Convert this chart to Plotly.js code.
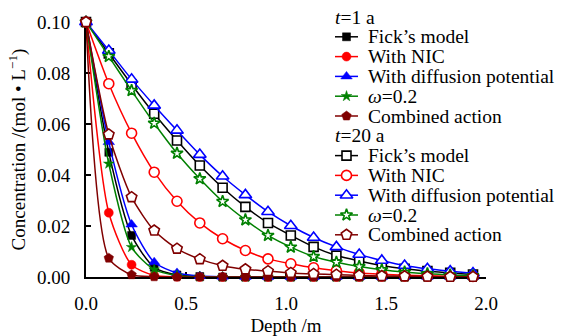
<!DOCTYPE html>
<html>
<head>
<meta charset="utf-8">
<script src="https://cdn.plot.ly/plotly-3.0.1.min.js"></script>
<style>
  html, body { margin: 0; padding: 0; background: #fff; }
  #chart { width: 569px; height: 336px; }
</style>
</head>
<body>
<div id="chart"></div>
<script>
// Depth grid (m)
const depth = [0, 0.114, 0.228, 0.341, 0.455, 0.569, 0.683, 0.797, 0.910, 1.024,
               1.138, 1.252, 1.366, 1.479, 1.593, 1.707, 1.821, 1.935];

// Concentration (mol/L) after t = 1 a
const fick1  = [0.1, 0.0489, 0.0163, 0.0038, 0.0008, 0.0002, 0, 0, 0, 0, 0, 0, 0, 0, 0, 0, 0, 0];
const nic1   = [0.1, 0.0252, 0.0048, 0.0006, 0.0001, 0, 0, 0, 0, 0, 0, 0, 0, 0, 0, 0, 0, 0];
const diff1  = [0.1, 0.0529, 0.0206, 0.0058, 0.0016, 0.0004, 0.0001, 0, 0, 0, 0, 0, 0, 0, 0, 0, 0, 0];
const omega1 = [0.1, 0.0444, 0.0117, 0.0029, 0.0006, 0.0001, 0, 0, 0, 0, 0, 0, 0, 0, 0, 0, 0, 0];
const comb1  = [0.1, 0.0074, 0.0009, 0.0001, 0, 0, 0, 0, 0, 0, 0, 0, 0, 0, 0, 0, 0, 0];

// Concentration (mol/L) after t = 20 a
const fick20  = [0.1, 0.0877, 0.0755, 0.0640, 0.0535, 0.0437, 0.0350, 0.0275, 0.0212, 0.0163,
                 0.0118, 0.0084, 0.0063, 0.0045, 0.0032, 0.0023, 0.0016, 0.0010];
const nic20   = [0.1, 0.0758, 0.0564, 0.0411, 0.0297, 0.0212, 0.0150, 0.0104, 0.0071, 0.0052,
                 0.0036, 0.0025, 0.0016, 0.0011, 0.0007, 0.0005, 0.0003, 0.0002];
const diff20  = [0.1, 0.0888, 0.0775, 0.0673, 0.0575, 0.0480, 0.0395, 0.0322, 0.0256, 0.0201,
                 0.0155, 0.0118, 0.0088, 0.0065, 0.0045, 0.0032, 0.0023, 0.0015];
const omega20 = [0.1, 0.0865, 0.0731, 0.0603, 0.0485, 0.0385, 0.0296, 0.0224, 0.0163, 0.0117,
                 0.0080, 0.0058, 0.0041, 0.0028, 0.0019, 0.0013, 0.0008, 0.0005];
const comb20  = [0.1, 0.0559, 0.0313, 0.0182, 0.0111, 0.0070, 0.0044, 0.0030, 0.0023, 0.0016,
                 0.0012, 0.0009, 0.0006, 0.0004, 0.0003, 0.0002, 0.0001, 0.0001];

// Legend labels
const groupTitles = ['<i>t</i>=1 a', '<i>t</i>=20 a'];
const modelNames = ["Fick\u2019s model", 'With NIC', 'With diffusion potential',
                    '<i>\u03c9</i>=0.2', 'Combined action'];

// Styling per model
const colors  = ['#000000', '#ff0000', '#0000ff', '#008000', '#800000'];
const symbols = ['square', 'circle', 'triangle-up', 'star', 'pentagon'];
const sizes   = [8, 9, 10, 8, 10];

const FONT = 'Liberation Serif, Times New Roman, serif';
const W = 569, H = 336;
const M = { l: 86, r: 83, t: 22, b: 59 };
const plotW = W - M.l - M.r, plotH = H - M.t - M.b;

const series = [
  [fick1, nic1, diff1, omega1, comb1],
  [fick20, nic20, diff20, omega20, comb20]
];

function markerStyle(k, open) {
  return {
    symbol: symbols[k], size: open ? sizes[k] + 1 : sizes[k],
    color: open ? '#ffffff' : colors[k],
    line: { color: colors[k], width: open ? 1.6 : 0.5 }
  };
}

const traces = [];
series.forEach((group, g) => {
  group.forEach((vals, k) => {
    traces.push({
      x: depth, y: vals, type: 'scatter', mode: 'lines+markers',
      line: { color: colors[k], width: 1.5, shape: 'spline', smoothing: 0.7 },
      marker: markerStyle(k, g === 1),
      cliponaxis: false, showlegend: false, hoverinfo: 'skip'
    });
  });
});

// Hand-built legend: keys on an overlay axis measured in plot fractions
const px2fx = px => (px - M.l) / plotW;
const py2fy = py => (H - M.b - py) / plotH;
const ROW0 = 17, ROW_STEP = 19.8;
const KEY_L = 335, KEY_R = 358, TEXT_X = 366, TITLE_X = 333;
const LEGEND_FONT = { family: FONT, size: 19.5, color: '#000' };

const annotations = [];
let row = 0;
groupTitles.forEach((title, g) => {
  annotations.push({
    xref: 'paper', yref: 'paper', x: px2fx(TITLE_X), y: py2fy(ROW0 + ROW_STEP * row),
    xanchor: 'left', yanchor: 'middle', showarrow: false, text: title, font: LEGEND_FONT
  });
  row++;
  modelNames.forEach((name, k) => {
    const yy = py2fy(ROW0 + ROW_STEP * row);
    const mk = markerStyle(k, g === 1);
    mk.opacity = [0, 1, 0];
    traces.push({
      x: [px2fx(KEY_L), px2fx((KEY_L + KEY_R) / 2), px2fx(KEY_R)], y: [yy, yy, yy],
      xaxis: 'x2', yaxis: 'y2', type: 'scatter', mode: 'lines+markers',
      line: { color: colors[k], width: 1.5 }, marker: mk,
      cliponaxis: false, showlegend: false, hoverinfo: 'skip'
    });
    annotations.push({
      xref: 'paper', yref: 'paper', x: px2fx(TEXT_X), y: yy,
      xanchor: 'left', yanchor: 'middle', showarrow: false, text: name, font: LEGEND_FONT
    });
    row++;
  });
});

const layout = {
  width: W, height: H, margin: M,
  paper_bgcolor: '#fff', plot_bgcolor: '#fff',
  showlegend: false,
  font: { family: FONT, size: 19, color: '#000' },
  xaxis: {
    range: [0, 2], dtick: 0.5, tick0: 0, tickformat: '.1f',
    ticks: 'inside', ticklen: 5, tickwidth: 1.5, tickcolor: '#000',
    showline: true, linecolor: '#000', linewidth: 2, mirror: false,
    showgrid: false, zeroline: false, layer: 'below traces',
    ticklabelstandoff: 8,
    tickfont: { family: FONT, size: 19 },
    title: { text: 'Depth /m', font: { family: FONT, size: 19 }, standoff: 8 }
  },
  yaxis: {
    range: [0, 0.1], dtick: 0.02, tick0: 0, tickformat: '.2f',
    ticks: 'inside', ticklen: 5, tickwidth: 1.5, tickcolor: '#000',
    showline: true, linecolor: '#000', linewidth: 2, mirror: false,
    showgrid: false, zeroline: false, layer: 'below traces',
    ticklabelstandoff: 10,
    tickfont: { family: FONT, size: 19 },
    title: { text: 'Concentration /(mol \u2022 L<sup>\u22121</sup>)',
             font: { family: FONT, size: 19 }, standoff: 6 }
  },
  xaxis2: { overlaying: 'x', range: [0, 1], visible: false, fixedrange: true },
  yaxis2: { overlaying: 'y', range: [0, 1], visible: false, fixedrange: true },
  annotations: annotations
};

Plotly.newPlot('chart', traces, layout, { staticPlot: true, displayModeBar: false });
</script>
</body>
</html>
